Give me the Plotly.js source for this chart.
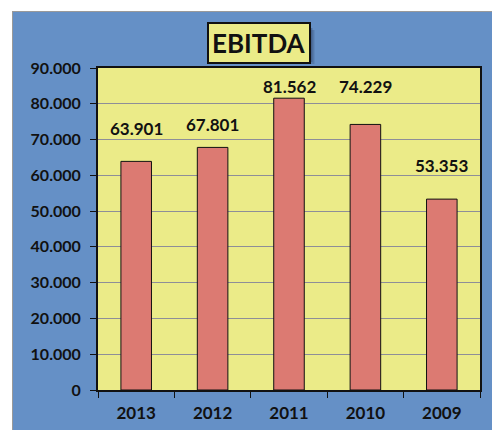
<!DOCTYPE html>
<html>
<head>
<meta charset="utf-8">
<script src="https://cdn.plot.ly/plotly-3.0.1.min.js"></script>
<style>
  html, body { margin: 0; padding: 0; background: #ffffff; }
  #wrap { position: absolute; left: 12px; top: 11px; width: 480px; height: 419px;
          border-left: 1px solid #9a9a9a; border-top: 1px solid #9a9a9a; }
  #chart { width: 479px; height: 418px; }
</style>
</head>
<body>
<div id="wrap"><div id="chart"></div></div>
<script>
const categories = ["2013", "2012", "2011", "2010", "2009"];
const ebitda = [63901, 67801, 81562, 74229, 53353];
const valueLabels = ["63.901", "67.801", "81.562", "74.229", "53.353"];
const yTickVals = [0, 10000, 20000, 30000, 40000, 50000, 60000, 70000, 80000, 90000];
const yTickText = ["0", "10.000", "20.000", "30.000", "40.000", "50.000", "60.000", "70.000", "80.000", "90.000"];
const chartTitle = "EBITDA";

const labelShift = [33, 23, 12, 38, 34];
const FONT = "Lato, 'Open Sans', sans-serif";

const annotations = categories.map((c, i) => ({
  x: i, y: ebitda[i], xref: "x", yref: "y",
  text: "<b>" + valueLabels[i] + "</b>", showarrow: false,
  yanchor: "middle", yshift: labelShift[i],
  font: { family: FONT, size: 17, color: "#111111" }
}));

const W = 383, H = 323;
function px(x) { return (x - 97) / W; }
function py(y) { return (390 - y) / H; }

annotations.push({
  xref: "paper", yref: "paper", x: px(258), y: py(41.5),
  xanchor: "center", yanchor: "middle",
  text: "<b>" + chartTitle + "</b>", showarrow: false,
  font: { family: FONT, size: 26, color: "#111111" },
  bgcolor: "#ebeb88", bordercolor: "#111111", borderwidth: 2, borderpad: 3
});

const shapes = [
  { type: "rect", xref: "paper", yref: "paper", layer: "below",
    x0: px(210), x1: px(314), y0: py(29), y1: py(63),
    fillcolor: "rgba(40,55,90,0.25)", line: { width: 0 } },
  { type: "rect", xref: "paper", yref: "paper", layer: "below",
    x0: px(209), x1: px(312), y0: py(27), y1: py(61),
    fillcolor: "rgba(40,55,90,0.35)", line: { width: 0 } }
];

const trace = {
  type: "bar", x: categories, y: ebitda,
  marker: { color: "#dc7a72", line: { color: "#111111", width: 1 } },
  hoverinfo: "none"
};

const layout = {
  width: 479, height: 418,
  margin: { l: 85, r: 12, t: 56, b: 40 },
  paper_bgcolor: "#6590c6",
  plot_bgcolor: "#ebeb88",
  bargap: 0.6,
  showlegend: false,
  font: { family: FONT, color: "#111111" },
  xaxis: {
    type: "category", range: [-0.5, categories.length - 0.5], autorange: false,
    showline: true, mirror: true, linecolor: "#111111", linewidth: 2,
    ticks: "outside", ticklen: 6, tickwidth: 1, tickcolor: "#111111",
    tickson: "boundaries", showgrid: false, tickangle: 0, ticklabelstandoff: 7,
    tickfont: { family: FONT, size: 17, color: "#111111", weight: "bold" }
  },
  yaxis: {
    range: [0, 90000], autorange: false, tickvals: yTickVals, ticktext: yTickText,
    showline: true, mirror: true, linecolor: "#111111", linewidth: 2,
    ticks: "outside", ticklen: 6, tickwidth: 1, tickcolor: "#111111", ticklabelstandoff: 6,
    showgrid: true, gridcolor: "#8e8e98", gridwidth: 1, zeroline: false,
    tickfont: { family: FONT, size: 16, color: "#111111", weight: "bold" }
  },
  annotations: annotations,
  shapes: shapes
};

Plotly.newPlot("chart", [trace], layout, { staticPlot: true, displayModeBar: false });
</script>
</body>
</html>
